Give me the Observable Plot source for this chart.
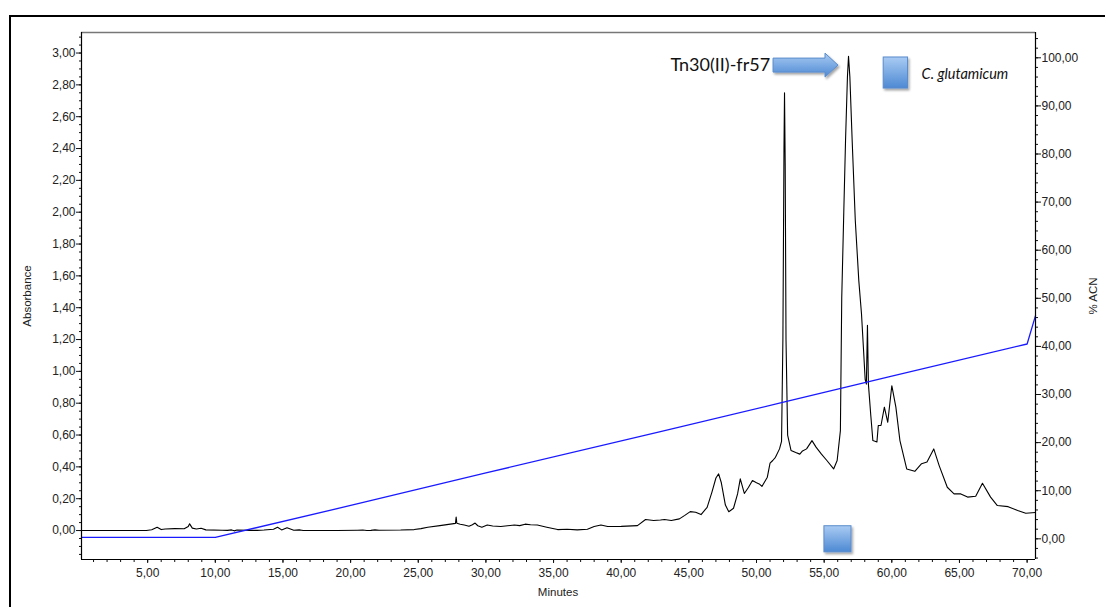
<!DOCTYPE html>
<html><head><meta charset="utf-8">
<script src="https://cdn.jsdelivr.net/npm/d3@7"></script>
<script src="https://cdn.jsdelivr.net/npm/@observablehq/plot@0.6"></script>
<style>
body{margin:0;background:#fff;}
#wrap{position:relative;width:1107px;height:607px;overflow:hidden;font-family:"Liberation Sans",Arial,sans-serif;}
#frame{position:absolute;left:9px;top:15px;width:1094px;height:700px;border-left:2px solid #000;border-top:2px solid #000;}
#chart{position:absolute;left:0;top:0;}
</style></head><body><div id="wrap"><div id="frame"></div><div id="chart"></div></div>
<script>
// ---- data ----
const traceMinutes = [0.11,4.9,5.3,5.7,6.0,6.3,7.0,7.7,8.0,8.1,8.3,8.6,8.95,9.3,10.5,10.9,11.2,11.4,11.6,12.5,13.1,13.6,14.3,14.6,14.9,15.3,15.6,15.8,16.2,16.5,19.0,20.5,20.9,21.2,21.5,21.8,22.1,23.7,24.7,25.2,25.7,26.6,27.5,27.75,27.8,27.85,28.1,28.4,28.75,29.0,29.2,29.4,29.7,30.1,30.5,31.1,31.6,32.1,32.5,32.9,33.3,33.8,34.5,35.3,36.0,36.75,37.5,38.0,38.5,39.0,40.0,41.2,41.8,42.4,42.9,43.2,43.7,44.3,44.7,45.1,45.5,45.9,46.35,46.7,47.0,47.2,47.4,47.7,47.95,48.3,48.6,48.8,49.1,49.4,49.7,50.0,50.2,50.4,50.8,51.0,51.2,51.4,51.7,51.85,51.95,52.03,52.07,52.12,52.18,52.3,52.55,52.9,53.2,53.4,53.7,54.1,54.4,54.8,55.2,55.7,55.96,56.2,56.3,56.45,56.58,56.72,56.8,56.9,57.07,57.3,57.56,57.76,57.9,58.03,58.12,58.2,58.27,58.45,58.6,58.9,59.0,59.2,59.45,59.7,60.0,60.3,60.6,61.1,61.7,62.2,62.6,63.1,63.5,64.1,64.6,65.1,65.6,66.2,66.7,67.3,67.8,68.6,69.3,69.9,70.62];
const traceAbsorbance = [0,0,0.005,0.021,0.006,0.010,0.012,0.011,0.025,0.042,0.015,0.010,0.014,0.004,0.002,0.001,0.004,-0.002,0.003,0.001,0.001,0.003,0.008,0.021,0.004,0.017,0.008,0.002,0.004,0,0,0.002,0.003,0,0.001,0.004,0.002,0.003,0.006,0.012,0.021,0.031,0.042,0.045,0.084,0.046,0.040,0.035,0.027,0.036,0.047,0.030,0.021,0.035,0.028,0.025,0.030,0.035,0.031,0.040,0.036,0.035,0.021,0.006,0.008,0.004,0.008,0.025,0.035,0.025,0.026,0.031,0.069,0.063,0.066,0.069,0.063,0.073,0.095,0.119,0.115,0.100,0.146,0.24,0.33,0.356,0.30,0.16,0.118,0.14,0.23,0.325,0.233,0.27,0.314,0.30,0.293,0.277,0.335,0.423,0.44,0.46,0.513,0.56,1.2,2.4,2.75,2.3,1.2,0.60,0.503,0.49,0.48,0.50,0.513,0.565,0.524,0.48,0.44,0.387,0.44,0.628,1.466,2.0,2.45,2.85,2.98,2.85,2.45,1.95,1.57,1.36,1.15,0.95,0.92,1.29,0.92,0.72,0.565,0.556,0.66,0.66,0.775,0.68,0.91,0.775,0.565,0.387,0.372,0.42,0.43,0.513,0.408,0.272,0.23,0.23,0.21,0.215,0.297,0.21,0.157,0.15,0.126,0.109,0.113];

const acnMinutes = [0.11,10.0,20.7,30.0,42.9,52.0,60.0,70.0,70.62];
const acnPercent = [0.3,0.3,7.4,13.7,22.3,28.4,33.8,40.5,46.4];

const xMajorTicks = [5,10,15,20,25,30,35,40,45,50,55,60,65,70];
const absTicks = [0,0.2,0.4,0.6,0.8,1.0,1.2,1.4,1.6,1.8,2.0,2.2,2.4,2.6,2.8,3.0];
const acnTicks = [0,10,20,30,40,50,60,70,80,90,100];
const xMinorTicks = d3.range(1,71);
const absMinorTicks = d3.range(-3,63).map(i=>i*0.05);
const acnMinorTicks = d3.range(-2,53).map(i=>i*2);

const annotationLabel = "Tn30(II)-fr57";
const legendLabel = "C. glutamicum";
const arrowFrom = 51.26, arrowTo = 56.06, arrowAbs = 2.921;
const legendBox = {x1:59.4, x2:61.2, y1:2.777, y2:2.972};
const fractionBox = {x1:55.02, x2:57.02, y1:-0.137, y2:0.027};

// ---- scales ----
const X_DOMAIN=[0.11,70.62];
const ABS_DOMAIN=[-0.182,3.129];
const ACN_DOMAIN=[-4.30,105.26];
const acnToAbs = v => ABS_DOMAIN[0] + (v-ACN_DOMAIN[0])/(ACN_DOMAIN[1]-ACN_DOMAIN[0])*(ABS_DOMAIN[1]-ABS_DOMAIN[0]);
const absToAcn = a => ACN_DOMAIN[0] + (a-ABS_DOMAIN[0])/(ABS_DOMAIN[1]-ABS_DOMAIN[0])*(ACN_DOMAIN[1]-ACN_DOMAIN[0]);
const fmt = d => d3.format(".2f")(Math.abs(d)<1e-9?0:d).replace(".", ",");
const blank = () => "";

const plot = Plot.plot({
  width:1107, height:607,
  marginLeft:81, marginRight:72, marginTop:32, marginBottom:48,
  x:{domain:X_DOMAIN},
  y:{domain:ABS_DOMAIN},
  style:{fontFamily:'"Liberation Sans", Arial, sans-serif', fontSize:"12px", color:"#222", background:"transparent", overflow:"visible"},
  marks:[
    Plot.axisX(xMinorTicks,{tickSize:3, tickFormat:blank, label:null, stroke:"#111"}),
    Plot.axisX(xMajorTicks,{tickSize:4, tickPadding:5, tickFormat:fmt, label:null, stroke:"#111"}),
    Plot.axisY(absMinorTicks.filter(v=>v>=ABS_DOMAIN[0]&&v<=ABS_DOMAIN[1]),{tickSize:2, tickFormat:blank, label:null, stroke:"#111"}),
    Plot.axisY(absTicks,{tickSize:5, tickPadding:1, tickFormat:fmt, label:null, stroke:"#111"}),
    Plot.axisY(acnMinorTicks.filter(v=>v>=ACN_DOMAIN[0]&&v<=ACN_DOMAIN[1]).map(acnToAbs),{anchor:"right", tickSize:2, tickFormat:blank, label:null, stroke:"#111"}),
    Plot.axisY(acnTicks.map(acnToAbs),{anchor:"right", tickSize:5, tickPadding:1, tickFormat:d=>fmt(Math.round(absToAcn(d))), label:null, stroke:"#111"}),
    Plot.rect([fractionBox],{x1:"x1",x2:"x2",y1:"y1",y2:"y2", fill:"#7aa8e1", stroke:"#5a8ccc", strokeWidth:1}),
    Plot.line(traceMinutes,{x:traceMinutes, y:traceAbsorbance, stroke:"#000", strokeWidth:1.1}),
    Plot.line(acnMinutes,{x:acnMinutes, y:acnMinutes.map((m,i)=>acnToAbs(acnPercent[i])), stroke:"#1a1aff", strokeWidth:1.3}),
    Plot.ruleY([ABS_DOMAIN[1]],{stroke:"#777", strokeWidth:1.5}),
    Plot.ruleY([ABS_DOMAIN[0]],{stroke:"#000", strokeWidth:1.2}),
    Plot.ruleX([X_DOMAIN[0]],{stroke:"#000", strokeWidth:1.2}),
    Plot.ruleX([X_DOMAIN[1]],{stroke:"#000", strokeWidth:1.2}),
    Plot.rect([legendBox],{x1:"x1",x2:"x2",y1:"y1",y2:"y2", fill:"#7aa8e1", stroke:"#5a8ccc", strokeWidth:1})
  ]
});
document.getElementById("chart").appendChild(plot);

const svg = d3.select(plot);
const defs = svg.insert("defs", ":first-child");
const g = defs.append("linearGradient").attr("id","boxGrad").attr("x1",0).attr("y1",0).attr("x2",0).attr("y2",1);
g.append("stop").attr("offset","0%").attr("stop-color","#a9cbf3");
g.append("stop").attr("offset","100%").attr("stop-color","#4d89d3");
const f = defs.append("filter").attr("id","shadow").attr("x","-30%").attr("y","-30%").attr("width","160%").attr("height","160%");
f.append("feDropShadow").attr("dx",1.5).attr("dy",2).attr("stdDeviation",1.3).attr("flood-color","#000").attr("flood-opacity",0.35);

// apply gradient + shadow to the two boxes drawn by Plot.rect
svg.selectAll("[fill='#7aa8e1']").attr("fill","url(#boxGrad)").attr("filter","url(#shadow)");

const sx = plot.scale("x"), sy = plot.scale("y");
const xs = sx.apply(arrowFrom), xt = sx.apply(arrowTo), yc = sy.apply(arrowAbs);
const bodyH = 7, headH = 12, headL = 13;
svg.append("path")
  .attr("d", `M${xs},${yc-bodyH}L${xt-headL},${yc-bodyH}L${xt-headL},${yc-headH}L${xt},${yc}L${xt-headL},${yc+headH}L${xt-headL},${yc+bodyH}L${xs},${yc+bodyH}Z`)
  .attr("fill","url(#boxGrad)").attr("stroke","#5a8ccc").attr("stroke-width",1).attr("filter","url(#shadow)");

svg.append("text").attr("x", sx.apply(51.04)).attr("y", sy.apply(2.887))
  .attr("text-anchor","end").attr("font-family","Lato, 'Open Sans', sans-serif").attr("font-size",18).attr("fill","#111")
  .text(annotationLabel);
svg.append("text").attr("x", sx.apply(62.24)).attr("y", sy.apply(2.833))
  .attr("text-anchor","start").attr("font-family","Lato, 'Open Sans', sans-serif").attr("font-style","italic").attr("font-size",14.5).attr("fill","#111")
  .text(legendLabel);

// axis titles
svg.append("text").attr("transform","translate(31,296) rotate(-90)").attr("text-anchor","middle")
  .attr("font-size",11.5).attr("fill","#222").text("Absorbance");
svg.append("text").attr("transform","translate(1097,296) rotate(-90)").attr("text-anchor","middle")
  .attr("font-size",11.5).attr("fill","#222").text("% ACN");
svg.append("text").attr("x",558).attr("y",596).attr("text-anchor","middle")
  .attr("font-size",11.5).attr("fill","#222").text("Minutes");
</script></body></html>
